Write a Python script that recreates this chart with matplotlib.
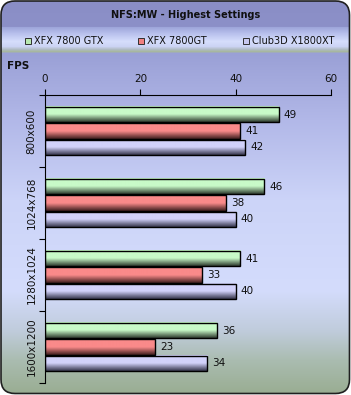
import numpy as np
import matplotlib
matplotlib.use("Agg")
import matplotlib.pyplot as plt
from matplotlib.colors import LinearSegmentedColormap, to_rgb
from matplotlib.patches import FancyBboxPatch, Rectangle

# ---- data ----
categories = ["800x600", "1024x768", "1280x1024", "1600x1200"]
series_names = ["XFX 7800 GTX", "XFX 7800GT", "Club3D X1800XT"]
gtx = [49, 46, 41, 36]
gt = [41, 38, 33, 23]
x1800 = [42, 40, 40, 34]
x_ticks = [0, 20, 40, 60]
title = "NFS:MW - Highest Settings"
axis_label = "FPS"

series_vals = [gtx, gt, x1800]
light = ["#c8fac8", "#fa8a8a", "#d2d2fa"]
dark = ["#2e3a2e", "#3e1e1e", "#34344a"]
legend_fc = ["#b8e8b0", "#f08080", "#c8c8f0"]

W, H = 351, 395
fig = plt.figure(figsize=(W / 100, H / 100), dpi=100)

# ---- background ----
bg = fig.add_axes([0, 0, 1, 1])
bg.set_xlim(0, W)
bg.set_ylim(H, 0)
bg.axis("off")

stops = [
    (0, "#8a8ec6"), (26, "#8c90c8"), (27, "#9ea6da"), (33, "#b8c0ec"),
    (41, "#d6defc"), (46, "#ccd4f4"), (49, "#b0bcc4"), (51, "#a8b8a0"),
    (53, "#9aa0d6"), (120, "#b2b8e8"), (200, "#ccd4f8"), (290, "#d4dcfc"),
    (330, "#c0ccdc"), (360, "#aabcb0"), (395, "#98ac90"),
]
ys = np.arange(H)
sy = [s[0] for s in stops]
cols = np.array([to_rgb(s[1]) for s in stops])
img = np.stack([np.interp(ys, sy, cols[:, k]) for k in range(3)], axis=-1)
img = img[:, None, :]
im = bg.imshow(img, extent=(0, W, H, 0), aspect="auto", interpolation="bilinear")
frame = FancyBboxPatch((1, 1), W - 2.5, H - 2.5,
                       boxstyle="round,pad=0,rounding_size=14",
                       fc="none", ec="#202020", lw=1.2)
bg.add_patch(frame)
im.set_clip_path(frame)

bg.text(W / 2 + 10, 15, title, ha="center", va="center", fontsize=7,
        fontweight="bold", color="#101010")
bg.text(7, 66, axis_label, ha="left", va="center", fontsize=7.5,
        fontweight="bold", color="#101010")

leg_x = [28, 141, 246]
for lx, name, fc in zip(leg_x, series_names, legend_fc):
    bg.add_patch(Rectangle((lx - 3, 37.5), 6, 6, fc=fc, ec="#303030", lw=0.7))
    bg.text(lx + 6, 41, name, ha="left", va="center", fontsize=7,
            color="#101010")

# ---- plot ----
ax = fig.add_axes([45 / W, 1 - 383 / H, (331 - 45) / W, (383 - 95) / H])
ax.patch.set_alpha(0)
n = len(categories)
bar_h = 0.212
offsets = [-0.227, 0.0, 0.227]
centers = np.arange(n) + 0.5

for si, vals in enumerate(series_vals):
    cmap = LinearSegmentedColormap.from_list(
        "g%d" % si, [light[si], light[si], dark[si]])
    grad = np.linspace(0, 1, 64)[:, None]
    for ci, v in enumerate(vals):
        c = centers[ci] + offsets[si]
        ax.imshow(grad, cmap=cmap, extent=(0, v, c + bar_h / 2, c - bar_h / 2),
                  aspect="auto", origin="upper", interpolation="bilinear",
                  zorder=2)
        ax.barh(c, v, height=bar_h, fc="none", ec="black", lw=1.0, zorder=3)
        ax.text(v + 1.1, c, str(v), ha="left", va="center", fontsize=7.5,
                color="#101010", zorder=4)

ax.set_xlim(0, 60)
ax.set_ylim(n, 0)
ax.xaxis.tick_top()
ax.set_xticks(x_ticks)
ax.set_xticklabels([str(t) for t in x_ticks], fontsize=7.5, color="#101010")
ax.tick_params(axis="x", direction="out", length=4, width=0.8, pad=4)
ax.set_yticks(np.arange(n + 1))
ax.set_yticklabels([])
ax.set_yticks(centers, minor=True)
ax.set_yticklabels(categories, minor=True, rotation=90, va="center",
                   fontsize=7.5, color="#101010")
ax.tick_params(axis="y", which="major", direction="out", length=4, width=0.8)
ax.tick_params(axis="y", which="minor", length=0, pad=6)
for s in ["right", "bottom"]:
    ax.spines[s].set_visible(False)
ax.spines["top"].set_linewidth(0.8)
ax.spines["left"].set_linewidth(0.8)

fig.savefig("out.png", dpi=100)
